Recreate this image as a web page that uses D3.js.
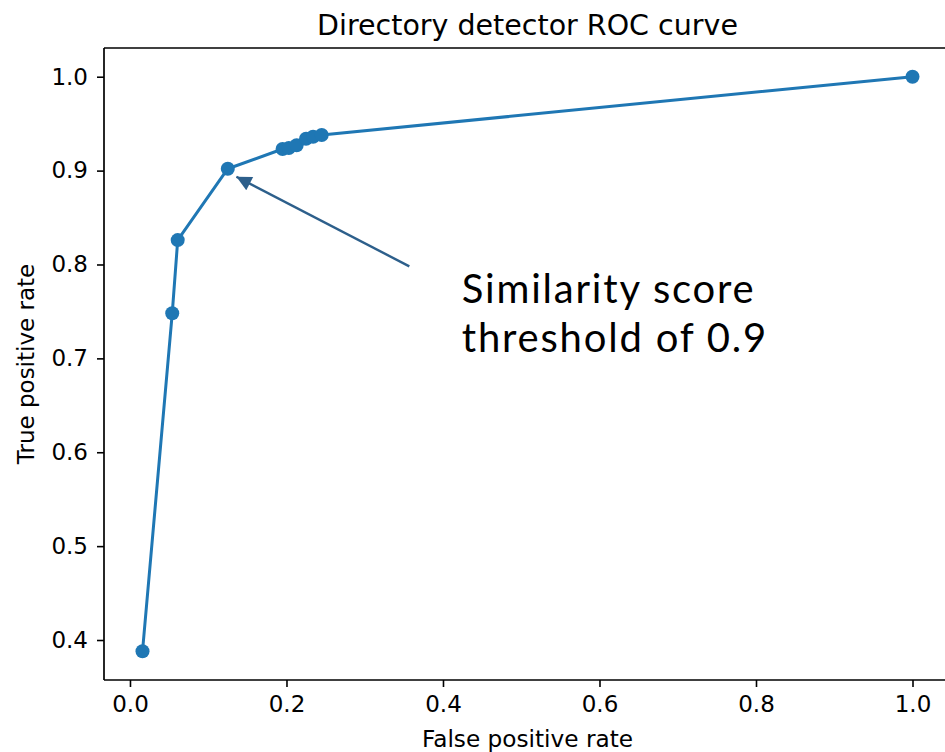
<!DOCTYPE html>
<html>
<head>
<meta charset="utf-8">
<script src="https://cdn.jsdelivr.net/npm/d3@7"></script>
<style>
  body { margin: 0; background: #ffffff; overflow: hidden; }
  svg { display: block; }
</style>
</head>
<body>
<svg id="chart" width="945" height="752"></svg>
<script>
// ROC operating points of the directory detector
const fpr = [0.016, 0.054, 0.061, 0.125, 0.195, 0.203, 0.213, 0.225, 0.234, 0.245, 1.0];
const tpr = [0.388, 0.748, 0.826, 0.902, 0.923, 0.924, 0.927, 0.934, 0.936, 0.938, 1.0];

const xTicks = [0.0, 0.2, 0.4, 0.6, 0.8, 1.0];
const yTicks = [0.4, 0.5, 0.6, 0.7, 0.8, 0.9, 1.0];

const titleText = "Directory detector ROC curve";
const xLabelText = "False positive rate";
const yLabelText = "True positive rate";

// callout for the 0.9 similarity threshold (data coordinates)
const noteLines = ["Similarity score", "threshold of 0.9"];
const noteArrowFrom = [0.357, 0.798];
const noteArrowTo = [0.136, 0.8935];
const noteTextAt = [0.424, 0.7585];
const noteLineStep = 0.0513;

const W = 945, H = 752;
const plot = { left: 104, top: 48, right: 951, bottom: 680 };

// axis limits with 5% margins around the data
function padded(vals) {
  const lo = d3.min(vals), hi = d3.max(vals), m = (hi - lo) * 0.05;
  return [lo - m, hi + m];
}

const x = d3.scaleLinear().domain(padded(fpr)).range([plot.left, plot.right]);
const y = d3.scaleLinear().domain(padded(tpr)).range([plot.bottom, plot.top]);

const svg = d3.select("#chart");
svg.append("rect").attr("width", W).attr("height", H).attr("fill", "#ffffff");

const font = "'DejaVu Sans', sans-serif";
const blue = "#1f77b4";

// data line and markers
const pts = fpr.map((v, i) => [v, tpr[i]]);
svg.append("path")
  .datum(pts)
  .attr("fill", "none")
  .attr("stroke", blue)
  .attr("stroke-width", 3)
  .attr("stroke-linejoin", "round")
  .attr("d", d3.line().x(d => x(d[0])).y(d => y(d[1])));

svg.append("g").selectAll("circle")
  .data(pts)
  .join("circle")
  .attr("cx", d => x(d[0]))
  .attr("cy", d => y(d[1]))
  .attr("r", 7)
  .attr("fill", blue);

// axes
const xAxis = d3.axisBottom(x).tickValues(xTicks).tickFormat(d3.format(".1f")).tickSizeOuter(0).tickSize(7).tickPadding(9);
const yAxis = d3.axisLeft(y).tickValues(yTicks).tickFormat(d3.format(".1f")).tickSizeOuter(0).tickSize(7).tickPadding(9);

const gx = svg.append("g").attr("transform", `translate(0,${plot.bottom})`).call(xAxis);
const gy = svg.append("g").attr("transform", `translate(${plot.left},0)`).call(yAxis);

[gx, gy].forEach(g => {
  g.select(".domain").remove();
  g.selectAll(".tick line").attr("stroke", "#000").attr("stroke-width", 1.6);
  g.selectAll(".tick text").attr("fill", "#000").style("font-family", font).style("font-size", "23px");
});

// spines (left, top, bottom); the right spine falls outside the canvas
const spine = svg.append("g").attr("stroke", "#000").attr("stroke-width", 1.7).attr("fill", "none");
spine.append("line").attr("x1", plot.left).attr("x2", plot.left).attr("y1", plot.top).attr("y2", plot.bottom);
spine.append("line").attr("x1", plot.left).attr("x2", W).attr("y1", plot.top).attr("y2", plot.top);
spine.append("line").attr("x1", plot.left).attr("x2", W).attr("y1", plot.bottom).attr("y2", plot.bottom);

// title and axis labels
const midX = (plot.left + plot.right) / 2;
const midY = (plot.top + plot.bottom) / 2;

svg.append("text")
  .attr("x", midX).attr("y", 35)
  .attr("text-anchor", "middle")
  .style("font-family", font).style("font-size", "28.5px")
  .attr("fill", "#000")
  .text(titleText);

svg.append("text")
  .attr("x", midX).attr("y", 747)
  .attr("text-anchor", "middle")
  .style("font-family", font).style("font-size", "23.2px")
  .attr("fill", "#000")
  .text(xLabelText);

svg.append("text")
  .attr("transform", `translate(34,${midY}) rotate(-90)`)
  .attr("text-anchor", "middle")
  .style("font-family", font).style("font-size", "23px")
  .attr("fill", "#000")
  .text(yLabelText);

// callout arrow and text
const noteColor = "#2d5f8b";
svg.append("defs").append("marker")
  .attr("id", "arrowhead")
  .attr("viewBox", "0 0 10 10")
  .attr("refX", 10).attr("refY", 5)
  .attr("markerUnits", "userSpaceOnUse")
  .attr("markerWidth", 17).attr("markerHeight", 15)
  .attr("orient", "auto")
  .append("path")
  .attr("d", "M0,0 L10,5 L0,10 Z")
  .attr("fill", noteColor);

svg.append("line")
  .attr("x1", x(noteArrowFrom[0])).attr("y1", y(noteArrowFrom[1]))
  .attr("x2", x(noteArrowTo[0])).attr("y2", y(noteArrowTo[1]))
  .attr("stroke", noteColor)
  .attr("stroke-width", 2.4)
  .attr("marker-end", "url(#arrowhead)");

svg.append("g").selectAll("text")
  .data(noteLines)
  .join("text")
  .attr("x", x(noteTextAt[0]))
  .attr("y", (d, i) => y(noteTextAt[1] - i * noteLineStep))
  .style("font-family", "Lato, 'Open Sans', sans-serif")
  .style("font-size", "40px")
  .style("letter-spacing", "1.8px")
  .attr("fill", "#000")
  .text(d => d);
</script>
</body>
</html>
